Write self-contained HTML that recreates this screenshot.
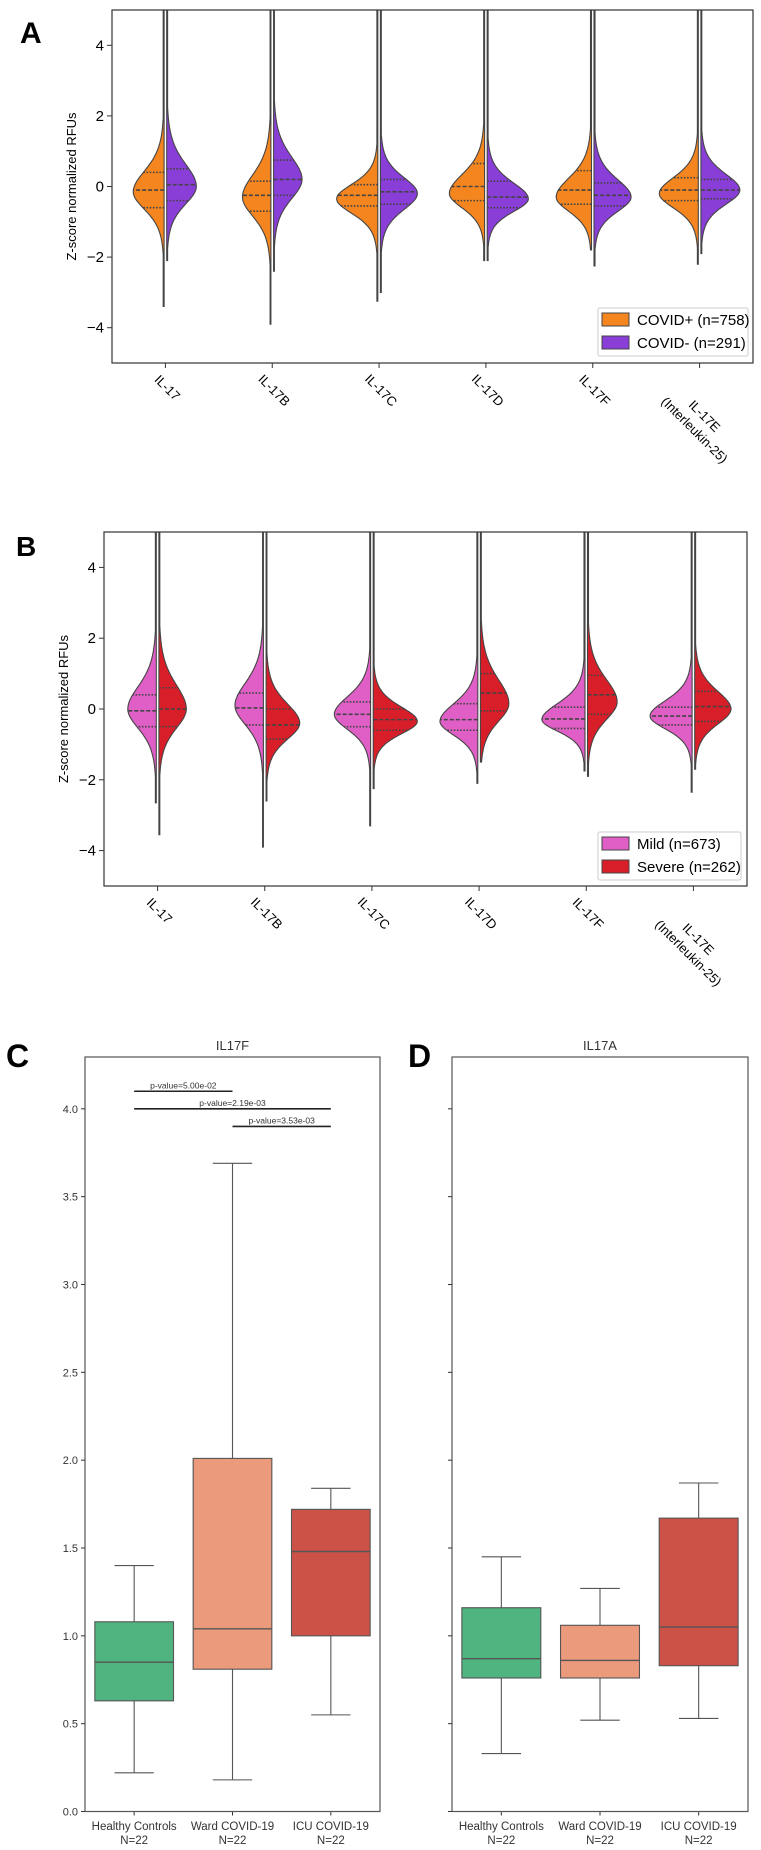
<!DOCTYPE html>
<html><head><meta charset="utf-8"><style>
html,body{margin:0;padding:0;background:#fff;}
svg{display:block;font-family:"Liberation Sans",sans-serif;}
</style></head><body>
<svg id="fig" width="761" height="1850" viewBox="0 0 761 1850" xmlns="http://www.w3.org/2000/svg">
<defs>
<clipPath id="clipA"><rect x="112" y="10" width="641" height="353"/></clipPath>
<clipPath id="clipB"><rect x="104" y="532" width="643" height="354"/></clipPath>
</defs>
<text x="20" y="43" font-size="30" font-weight="bold">A</text>
<text x="16" y="556" font-size="28" font-weight="bold">B</text>
<text x="6" y="1067" font-size="32" font-weight="bold">C</text>
<text x="408" y="1067" font-size="32" font-weight="bold">D</text>
<g id="gA"></g>
<g id="gB"></g>
<g id="gC"></g>
<g id="gD"></g>
</svg>
<script>
// ---------- data ----------
const violinCats = ["IL-17","IL-17B","IL-17C","IL-17D","IL-17F","IL-17E"];
// Panel A
const aLeftMode = [-0.15,-0.3,-0.35,-0.2,-0.3,-0.2];
const aLeftSU   = [0.65,0.7,0.45,0.6,0.6,0.5];
const aLeftSD   = [0.55,0.6,0.45,0.45,0.45,0.45];
const aLeftMin  = [-3.4,-3.9,-3.25,-2.1,-1.8,-2.2];
const aLeftQ1   = [-0.6,-0.7,-0.55,-0.4,-0.5,-0.4];
const aLeftMed  = [-0.1,-0.25,-0.25,0.0,-0.1,-0.1];
const aLeftQ3   = [0.4,0.15,0.05,0.65,0.45,0.25];
const aRightMode = [0.0,0.2,-0.2,-0.35,-0.3,-0.1];
const aRightSU   = [0.7,0.7,0.5,0.5,0.55,0.5];
const aRightSD   = [0.55,0.6,0.5,0.4,0.45,0.45];
const aRightMin  = [-2.1,-2.4,-3.0,-2.1,-2.25,-1.9];
const aRightQ1   = [-0.4,-0.25,-0.5,-0.6,-0.55,-0.35];
const aRightMed  = [0.05,0.2,-0.15,-0.3,-0.25,-0.1];
const aRightQ3   = [0.5,0.75,0.2,0.15,0.1,0.2];
// Panel B
const bLeftMode = [0.0,0.1,-0.15,-0.35,-0.3,-0.2];
const bLeftSU   = [0.7,0.7,0.55,0.55,0.5,0.48];
const bLeftSD   = [0.6,0.6,0.47,0.43,0.36,0.4];
const bLeftMin  = [-2.65,-3.9,-3.3,-2.1,-1.75,-2.35];
const bLeftQ1   = [-0.5,-0.45,-0.5,-0.6,-0.55,-0.45];
const bLeftMed  = [-0.05,0.03,-0.15,-0.3,-0.28,-0.2];
const bLeftQ3   = [0.4,0.45,0.2,0.15,0.05,0.05];
const bRightMode = [0.0,-0.4,-0.35,0.15,0.2,0.0];
const bRightSU   = [0.75,0.6,0.45,0.75,0.7,0.55];
const bRightSD   = [0.6,0.5,0.39,0.55,0.55,0.47];
const bRightMin  = [-3.55,-2.6,-2.25,-1.5,-1.9,-1.7];
const bRightQ1   = [-0.5,-0.85,-0.6,-0.05,-0.15,-0.35];
const bRightMed  = [0.0,-0.45,-0.3,0.45,0.4,0.07];
const bRightQ3   = [0.6,0.0,0.0,1.0,0.95,0.5];
const violinTicks = [4,2,0,-2,-4];
// Panels C/D
const boxCats = ["Healthy Controls","Ward COVID-19","ICU COVID-19"];
const boxN = ["N=22","N=22","N=22"];
const cLow = [0.22,0.18,0.55], cQ1=[0.63,0.81,1.00], cMed=[0.85,1.04,1.48], cQ3=[1.08,2.01,1.72], cHigh=[1.40,3.69,1.84];
const dLow = [0.33,0.52,0.53], dQ1=[0.76,0.76,0.83], dMed=[0.87,0.86,1.05], dQ3=[1.16,1.06,1.67], dHigh=[1.45,1.27,1.87];
const boxTicks = [0.0,0.5,1.0,1.5,2.0,2.5,3.0,3.5,4.0];
const sigLabels = ["p-value=5.00e-02","p-value=2.19e-03","p-value=3.53e-03"];
const sigFrom = [0,0,1], sigTo=[1,2,2], sigY=[4.1,4.0,3.9];

const NS="http://www.w3.org/2000/svg";
function mk(parent,tag,attrs,text){const e=document.createElementNS(NS,tag);for(const k in attrs)e.setAttribute(k,attrs[k]);if(text!==undefined)e.textContent=text;parent.appendChild(e);return e;}

function violinPanel(g, box, clip, cols, L, R, legendLabels, legendBox){
  const [x0,y0,x1,y1]=box;
  const xs=i=>x0+(i+0.5)*(x1-x0)/6;
  const ys=v=>y0+(5-v)*(y1-y0)/10;
  const K=18.5, gap=1.3, nu=6;
  const cg=mk(g,'g',{'clip-path':'url(#'+clip+')'});
  const halves=[[L,-1,cols[0]],[R,1,cols[1]]];
  violinCats.forEach((c,i)=>{
    halves.forEach(([D,side,col])=>{
      const mode=D.mode[i],su=D.su[i],sd=D.sd[i],mn=D.min[i],mx=5.6;
      const wf=v=>{const s=v>mode?su:sd;const z=(v-mode)/s;return Math.max(K*Math.pow(1+z*z/nu,-(nu+1)/2)/((su+sd)/2),0.9);};
      const cx=xs(i);let pts=[];
      for(let v=mn;v<=mx;v+=0.02)pts.push((cx+side*(gap+wf(v))).toFixed(1)+','+ys(v).toFixed(1));
      pts.push((cx+side*gap).toFixed(1)+','+ys(mx).toFixed(1));
      pts.push((cx+side*gap).toFixed(1)+','+ys(mn).toFixed(1));
      const p=mk(cg,'polygon',{points:pts.join(' '),fill:col,stroke:'#444','stroke-width':1.1});
      
      
      [[D.q1[i],'1.6,1.6'],[D.med[i],'4,2'],[D.q3[i],'1.6,1.6']].forEach(([q,da])=>{
        const l=mk(cg,'line',{x1:cx+side*gap,x2:cx+side*(gap+wf(q)),y1:ys(q),y2:ys(q),stroke:'#444','stroke-width':1.6,'stroke-dasharray':da});
        
        
      });
    });
  });
  const fr=mk(g,'rect',{x:x0,y:y0,width:x1-x0,height:y1-y0,fill:'none',stroke:'#333','stroke-width':1.2});
  
  
  violinTicks.forEach(t=>{
    mk(g,'line',{x1:x0-5,x2:x0,y1:ys(t),y2:ys(t),stroke:'#333'});
    const tl=mk(g,'text',{x:x0-8,y:ys(t)+5,'text-anchor':'end','font-size':15,'font-family':'"Liberation Sans Narrow","Liberation Sans",sans-serif'},t<0?'\u2212'+(-t):String(t));
    
    
  });
  const yl=mk(g,'text',{x:0,y:0,'text-anchor':'middle','font-size':13,transform:'translate('+(x0-36)+','+((y0+y1)/2)+') rotate(-90)'},'Z-score normalized RFUs');
  
  
  violinCats.forEach((c,i)=>{
    const cx=xs(i);
    mk(g,'line',{x1:cx,x2:cx,y1:y1,y2:y1+5,stroke:'#333'});
    if(i<5){
      const w=c.length*7.2*0.707;
      const t=mk(g,'text',{x:cx+2,y:y1+12+w/2,'text-anchor':'middle','dominant-baseline':'central','font-size':13,transform:'rotate(45 '+(cx+2)+' '+(y1+12+w/2)+')'},c);
      
      
    } else {
      const t1=mk(g,'text',{x:cx+5,y:y1+53,'text-anchor':'middle','dominant-baseline':'central','font-size':13,transform:'rotate(45 '+(cx+5)+' '+(y1+53)+')'},c);
      
      
      const t2=mk(g,'text',{x:cx-5,y:y1+67,'text-anchor':'middle','dominant-baseline':'central','font-size':13,transform:'rotate(45 '+(cx-5)+' '+(y1+67)+')'},'(Interleukin-25)');
      
      
    }
  });
  const [lx,ly,lw,lh]=legendBox;
  const lg=mk(g,'g',{});
  
  
  mk(lg,'rect',{x:lx,y:ly,width:lw,height:lh,fill:'#fff',stroke:'#ccc',rx:2});
  legendLabels.forEach((lab,k)=>{
    const yy=ly+5+k*23;
    const sw=mk(lg,'rect',{x:lx+4,y:yy,width:27,height:13,fill:cols[k],stroke:'#444'});
    
    
    const tx=mk(lg,'text',{x:lx+39,y:yy+12,'font-size':15,'font-family':'"Liberation Sans Narrow","Liberation Sans",sans-serif'},lab);
    
    
  });
}
violinPanel(document.getElementById('gA'),[112,10,753,363],'clipA',['#f5861f','#8a3ed8'],
 {mode:aLeftMode,su:aLeftSU,sd:aLeftSD,min:aLeftMin,q1:aLeftQ1,med:aLeftMed,q3:aLeftQ3},
 {mode:aRightMode,su:aRightSU,sd:aRightSD,min:aRightMin,q1:aRightQ1,med:aRightMed,q3:aRightQ3},
 ['COVID+ (n=758)','COVID- (n=291)'],[598,308,150,48]);
violinPanel(document.getElementById('gB'),[104,532,747,886],'clipB',['#df5fc7','#d81f29'],
 {mode:bLeftMode,su:bLeftSU,sd:bLeftSD,min:bLeftMin,q1:bLeftQ1,med:bLeftMed,q3:bLeftQ3},
 {mode:bRightMode,su:bRightSU,sd:bRightSD,min:bRightMin,q1:bRightQ1,med:bRightMed,q3:bRightQ3},
 ['Mild (n=673)','Severe (n=262)'],[598,832,143,48]);

function boxPanel(g,x0,x1,title,low,q1,med,q3,high,showLabels,sig){
  const y0=1057,y1=1811.5,ymax=4.295;
  const sp=(x1-x0)/3;
  const xs=i=>x0+(i+0.5)*sp;
  const ys=v=>y1-v*(y1-y0)/ymax;
  const cols=['#4fb47f','#ec9a7c','#cc5248'];
  const tt=mk(g,'text',{x:(x0+x1)/2,y:1050,'text-anchor':'middle','font-size':13,fill:'#333'},title);
  
  
  boxCats.forEach((c,i)=>{
    const cx=xs(i),bw=sp*0.8,cw=bw/2;
    const w=mk(g,'g',{stroke:'#555','stroke-width':1.1});
    
    
    mk(w,'line',{x1:cx,x2:cx,y1:ys(high[i]),y2:ys(q3[i])});
    mk(w,'line',{x1:cx,x2:cx,y1:ys(q1[i]),y2:ys(low[i])});
    mk(w,'line',{x1:cx-cw/2,x2:cx+cw/2,y1:ys(high[i]),y2:ys(high[i])});
    mk(w,'line',{x1:cx-cw/2,x2:cx+cw/2,y1:ys(low[i]),y2:ys(low[i])});
    mk(w,'rect',{x:cx-bw/2,y:ys(q3[i]),width:bw,height:ys(q1[i])-ys(q3[i]),fill:cols[i]});
    mk(w,'line',{x1:cx-bw/2,x2:cx+bw/2,y1:ys(med[i]),y2:ys(med[i]),'stroke-width':1.4});
    mk(g,'line',{x1:cx,x2:cx,y1:y1,y2:y1+4,stroke:'#333'});
    const t=mk(g,'text',{x:cx,y:1830,'text-anchor':'middle','font-size':11.5,fill:'#333'},c);
    
    
    const n=mk(g,'text',{x:cx,y:1844,'text-anchor':'middle','font-size':11.5,fill:'#333'},boxN[i]);
    
    
  });
  const fr=mk(g,'rect',{x:x0,y:y0,width:x1-x0,height:y1-y0,fill:'none',stroke:'#555','stroke-width':1.2});
  
  
  boxTicks.forEach(t=>{
    mk(g,'line',{x1:x0-4,x2:x0,y1:ys(t),y2:ys(t),stroke:'#333'});
    if(showLabels){
      const tl=mk(g,'text',{x:x0-7,y:ys(t)+4,'text-anchor':'end','font-size':11,fill:'#333'},t.toFixed(1));
      
      
    }
  });
  if(sig){
    sigLabels.forEach((s,k)=>{
      const a=xs(sigFrom[k]),b=xs(sigTo[k]),y=ys(sigY[k]);
      const l=mk(g,'line',{x1:a,x2:b,y1:y,y2:y,stroke:'#222','stroke-width':1.6});
      
      
      const t=mk(g,'text',{x:(a+b)/2,y:y-3,'text-anchor':'middle','font-size':8.5,fill:'#333'},s);
      
      
    });
  }
}
boxPanel(document.getElementById('gC'),85,380,'IL17F',cLow,cQ1,cMed,cQ3,cHigh,true,true);
boxPanel(document.getElementById('gD'),452,748,'IL17A',dLow,dQ1,dMed,dQ3,dHigh,false,false);
</script>
</body></html>
